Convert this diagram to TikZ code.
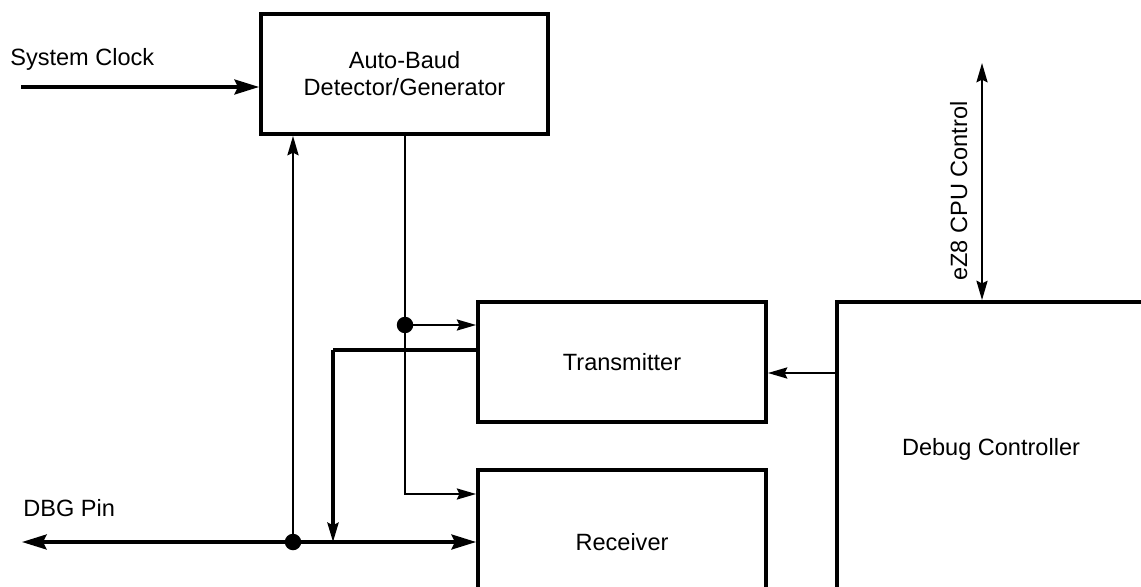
\documentclass[tikz,border=0pt]{standalone}
\usepackage{fontspec}
\setmainfont{Liberation Sans}
\usetikzlibrary{arrows.meta}

\tikzset{
  blk/.style={draw, line width=2.2pt, inner sep=0pt, align=center,
    font=\fontsize{13.4}{15.3}\selectfont},
  lbl/.style={inner sep=0pt, font=\fontsize{13.4}{15.3}\selectfont},
  bus/.style={line width=1.9pt, -{Stealth[length=14pt,width=8.5pt,inset=2pt]}},
  sig/.style={line width=1.25pt, -{Stealth[length=11pt,width=6.3pt,inset=1.5pt]}},
  jdot/.style={circle, fill, inner sep=0pt, minimum size=0.33cm}
}

\begin{document}
\begin{tikzpicture}[x=0.02cm, y=-0.02cm]
  \useasboundingbox (0,0) rectangle (1141,587);
  \clip (0,0) rectangle (1141,587);

  % blocks
  \node[blk, minimum width=5.74cm, minimum height=2.4cm] (abd) at (404.5,74)
    {Auto-Baud\\Detector/Generator};
  \node[blk, minimum width=5.76cm, minimum height=2.4cm] (tx) at (622,362) {Transmitter};
  \node[blk, minimum width=5.76cm, minimum height=2.88cm] (rx) at (622,542) {Receiver};
  \node[blk, minimum width=6.16cm, minimum height=5.88cm] (dbc) at (991,449) {Debug Controller};

  % labels
  \node[lbl, anchor=base west] (clklbl) at (10,66) {System Clock};
  \node[lbl, anchor=base west] (pinlbl) at (23,516) {DBG Pin};
  \node[lbl, anchor=base, rotate=90] (cpulbl) at (967,191) {eZ8 CPU Control};

  % free ends and junctions
  \coordinate (clk) at (21,87);
  \coordinate (pin) at (22,542);
  \coordinate (cpu) at (982,63);
  \coordinate (bend) at (333,350);
  \node[jdot] (j1) at (293,542) {};
  \node[jdot] (j2) at (405,325) {};

  % system clock
  \draw[bus] (clk) -- (clk -| abd.west);
  % DBG pin line
  \draw[bus, {Stealth[length=14pt,width=8.5pt,inset=2pt]}-{Stealth[length=14pt,width=8.5pt,inset=2pt]}]
    (pin) -- (pin -| rx.west);
  \draw[sig] (j1.center) -- (j1 |- abd.south);
  % baud clock
  \draw[sig] (abd.south -| j2) -- (405,494) -- (rx.west |- 0,494);
  \draw[sig] (j2.center) -- (j2 -| tx.west);
  % transmitter output
  \draw[line width=1.9pt] (tx.west |- bend) -- (bend);
  \draw[sig, line width=1.9pt] (bend) -- (bend |- pin);
  % controller
  \draw[sig] (dbc.west |- 0,373) -- (tx.east |- 0,373);
  \draw[sig, {Stealth[length=11pt,width=6.3pt,inset=1.5pt]}-{Stealth[length=11pt,width=6.3pt,inset=1.5pt]}]
    (cpu) -- (cpu |- dbc.north);
\end{tikzpicture}
\end{document}
